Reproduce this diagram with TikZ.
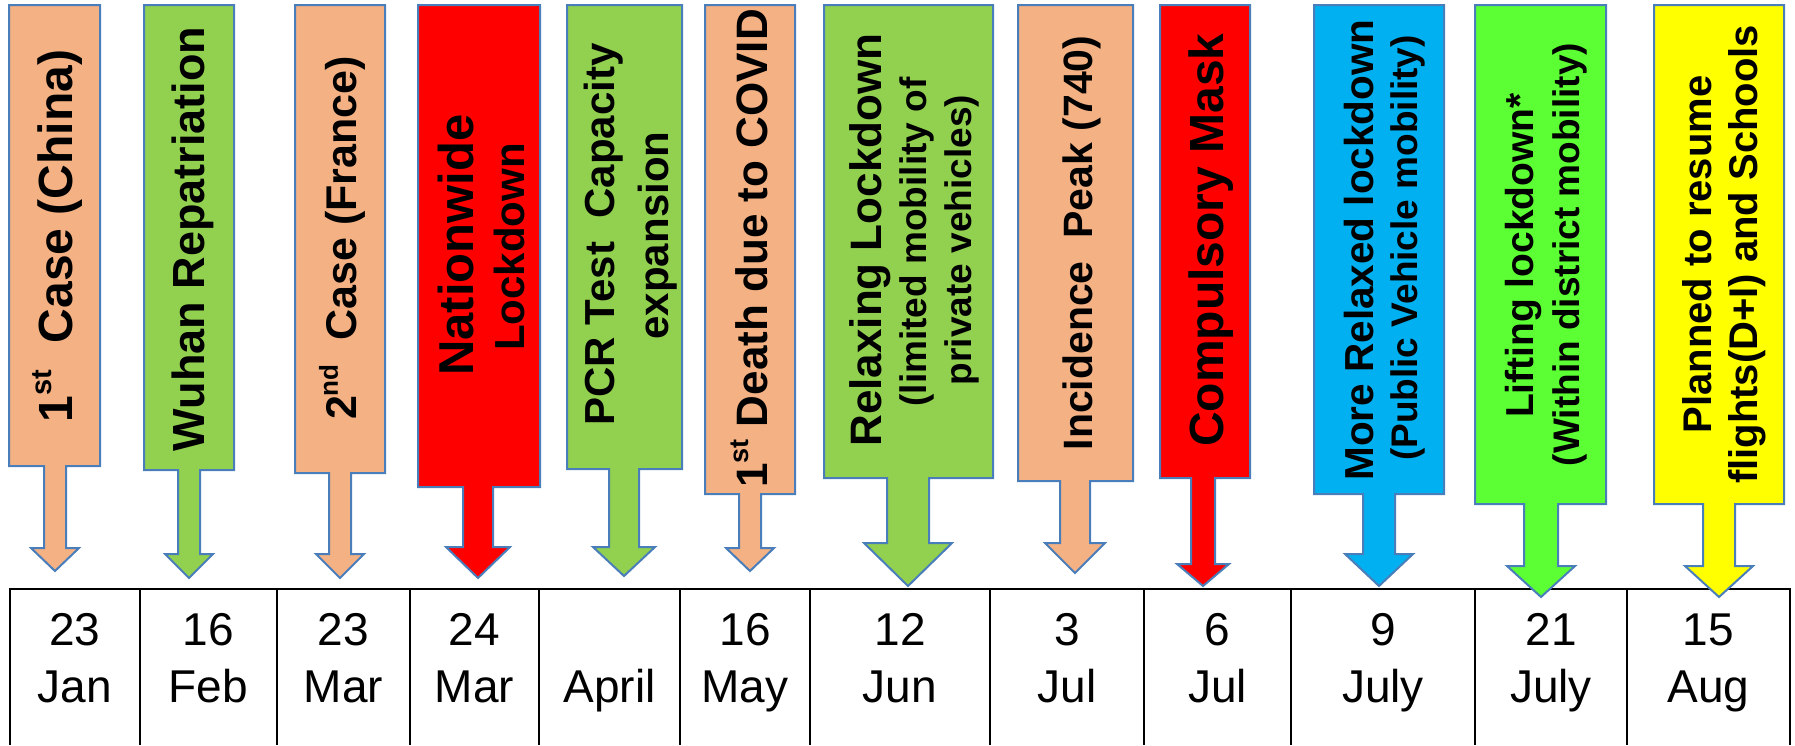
\documentclass[tikz,border=0pt]{standalone}
\usepackage{fontspec}
\setmainfont{Liberation Sans}
\definecolor{salmon}{HTML}{F4B183}
\definecolor{lgreen}{HTML}{92D050}
\definecolor{bred}{HTML}{FF0000}
\definecolor{sky}{HTML}{00B0F0}
\definecolor{lime}{HTML}{5CFF33}
\definecolor{yel}{HTML}{FFFF00}
\definecolor{edgeblue}{HTML}{4A7EBB}
\newcommand\fsz[1]{\fontsize{#1}{#1}\selectfont}
% #1 colour, #2 left, #3 right, #4 box bottom, #5 centre x, #6 shaft half width,
% #7 head half width, #8 head y, #9 tip y
\newcommand\evtarrow[9]{%
  \draw[calloutbox, fill=#1] (#2,5) -- (#3,5) -- (#3,#4) -- ({#5+#6},#4) -- ({#5+#6},#8)
    -- ({#5+#7},#8) -- (#5,#9) -- ({#5-#7},#8) -- ({#5-#6},#8) -- ({#5-#6},#4)
    -- (#2,#4) -- cycle;}
\tikzset{
  calloutbox/.style={draw=edgeblue, line width=2pt, line join=miter},
  lbl/.style={rotate=90, anchor=base, inner sep=0pt, font=\bfseries},
  datetxt/.style={anchor=base, inner sep=0pt, font=\fsz{46}},
  gridline/.style={line width=2.5pt, black, line join=miter}
}
\begin{document}
\begin{tikzpicture}[x=1pt, y=-1pt]
\useasboundingbox (0,0) rectangle (1795,745);
% table
\draw[gridline] (10,745) -- (10,589) -- (1790,589) -- (1790,745);
\foreach \xx in {140,277,410,539,680,810,990,1144,1291,1475,1627}
  \draw[gridline] (\xx,589) -- (\xx,745);
% dates
\node[datetxt] (n1) at (75,645) {23};     \node[datetxt] (m1) at (75,702) {Jan};
\node[datetxt] (n2) at (208.5,645) {16};  \node[datetxt] (m2) at (208.5,702) {Feb};
\node[datetxt] (n3) at (343.5,645) {23};  \node[datetxt] (m3) at (343.5,702) {Mar};
\node[datetxt] (n4) at (474.5,645) {24};  \node[datetxt] (m4) at (474.5,702) {Mar};
\node[datetxt] (m5) at (609.5,702) {April};
\node[datetxt] (n6) at (745,645) {16};    \node[datetxt] (m6) at (745,702) {May};
\node[datetxt] (n7) at (900,645) {12};    \node[datetxt] (m7) at (900,702) {Jun};
\node[datetxt] (n8) at (1067,645) {3};    \node[datetxt] (m8) at (1067,702) {Jul};
\node[datetxt] (n9) at (1217.5,645) {6};  \node[datetxt] (m9) at (1217.5,702) {Jul};
\node[datetxt] (n10) at (1383,645) {9};   \node[datetxt] (m10) at (1383,702) {July};
\node[datetxt] (n11) at (1551,645) {21};  \node[datetxt] (m11) at (1551,702) {July};
\node[datetxt] (n12) at (1708.5,645) {15}; \node[datetxt] (m12) at (1708.5,702) {Aug};
% arrows
\evtarrow{salmon}{9}{100}{466}{55}{11}{24}{548}{571}
\evtarrow{lgreen}{144}{234}{470}{189}{11}{24}{554}{578}
\evtarrow{salmon}{295}{385}{473}{340}{11}{24}{554}{578}
\evtarrow{bred}{418}{540}{487}{478}{15}{32}{547}{578}
\evtarrow{lgreen}{567}{682}{469}{624}{15}{31}{547}{576}
\evtarrow{salmon}{705}{795}{494}{750}{11}{24}{548}{571}
\evtarrow{lgreen}{824}{993}{478}{908}{21}{44}{543}{586}
\evtarrow{salmon}{1018}{1133}{481}{1075}{15}{30}{543}{573}
\evtarrow{bred}{1160}{1250}{478}{1203}{12}{26}{564}{586}
\evtarrow{sky}{1314}{1444}{494}{1379}{16}{34}{554}{586}
\evtarrow{lime}{1475}{1606}{504}{1541}{17}{34}{566}{597}
\evtarrow{yel}{1654}{1784}{504}{1719}{16}{34}{566}{597}
% labels
\node[lbl] (a1) at (72,236) {\fsz{48}1\raisebox{.42em}{\fsz{29}st}\ \ Case (China)};
\node[lbl] (a2) at (204.5,239) {\fsz{45}Wuhan Repatriation};
\node[lbl] (a3) at (356,238) {\fsz{43}2\raisebox{.42em}{\fsz{26}nd}\ \ Case (France)};
\node[lbl] (a4a) at (473,245) {\fsz{49}Nationwide};
\node[lbl] (a4b) at (524,247) {\fsz{42}Lockdown};
\node[lbl] (a5a) at (614,234.5) {\fsz{42}PCR Test\ \ Capacity};
\node[lbl] (a5b) at (668,235.5) {\fsz{42}expansion};
\node[lbl] (a6) at (767,248.5) {\fsz{44}1\raisebox{.42em}{\fsz{27}st} Death due to COVID};
\node[lbl] (a7a) at (881,240) {\fsz{44}Relaxing Lockdown};
\node[lbl] (a7b) at (926,242) {\fsz{37}(limited mobility of};
\node[lbl] (a7c) at (971,240) {\fsz{37}private vehicles)};
\node[lbl] (a8) at (1092,243) {\fsz{41}Incidence\ \ Peak (740)};
\node[lbl] (a9) at (1223,240) {\fsz{48}Compulsory Mask};
\node[lbl] (a10a) at (1373,250) {\fsz{40.5}More Relaxed lockdown};
\node[lbl] (a10b) at (1417,248) {\fsz{37}(Public Vehicle mobility)};
\node[lbl] (a11a) at (1533.5,255.5) {\fsz{39}Lifting lockdown*};
\node[lbl] (a11b) at (1579,254.5) {\fsz{37}(Within district mobility)};
\node[lbl] (a12a) at (1711.5,254.5) {\fsz{40}Planned to resume};
\node[lbl] (a12b) at (1757,254.5) {\fsz{40}flights(D+I) and Schools};
\end{tikzpicture}
\end{document}
